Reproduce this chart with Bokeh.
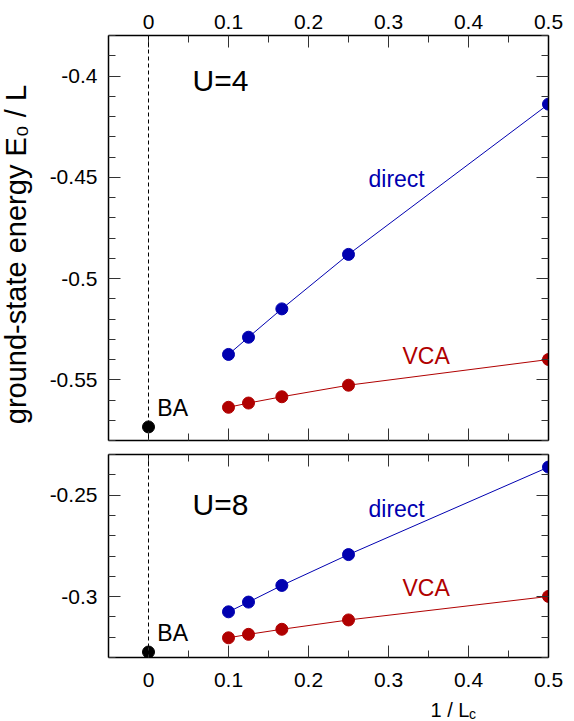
import math
from bokeh.plotting import figure
from bokeh.layouts import column, row
from bokeh.models import LinearAxis, FixedTicker, Range1d, Label, Span
from bokeh.embed import file_html
from bokeh.resources import INLINE

# ---------------- data ----------------
Lc = [10, 8, 6, 4, 2]                      # cluster sizes
inv_Lc = [1.0 / l for l in Lc]             # x = 1 / Lc

u4_direct = [-0.5375, -0.5290, -0.5150, -0.4881, -0.4139]
u4_vca = [-0.5636, -0.5615, -0.5584, -0.5527, -0.5400]
u4_ba = -0.5733

u8_direct = [-0.3075, -0.3027, -0.2945, -0.2793, -0.2362]
u8_vca = [-0.3203, -0.3186, -0.3161, -0.3115, -0.2999]
u8_ba = -0.3273

x_ticks = [0, 0.1, 0.2, 0.3, 0.4, 0.5]
x_tick_labels = ["0", "0.1", "0.2", "0.3", "0.4", "0.5"]
x_minor = [0.05, 0.15, 0.25, 0.35, 0.45]
top_y_ticks = [-0.55, -0.5, -0.45, -0.4]
top_y_labels = ["-0.55", "-0.5", "-0.45", "-0.4"]
bot_y_ticks = [-0.3, -0.25]
bot_y_labels = ["-0.3", "-0.25"]

FONT = "Liberation Sans"
BLUE = "#0000b0"
RED = "#b00000"
TICK_FS = "21px"
YLAB_W = 40


def make_axis(ticks, labels, minor, show_labels, side):
    ax = LinearAxis(ticker=FixedTicker(ticks=ticks, minor_ticks=minor))
    ax.axis_line_color = "black"
    ax.axis_line_width = 1.5
    ax.major_tick_in = 12
    ax.major_tick_out = 0
    ax.minor_tick_in = 7
    ax.minor_tick_out = 0
    ax.major_tick_line_color = "#333333"
    ax.minor_tick_line_color = "#333333"
    ax.major_tick_line_width = 1
    ax.minor_tick_line_width = 1
    ax.major_label_text_font = FONT
    ax.axis_label_standoff = 0
    if show_labels:
        ax.major_label_overrides = {t: s for t, s in zip(ticks, labels)}
        ax.major_label_text_font_size = TICK_FS
        ax.major_label_text_color = "black"
        ax.major_label_standoff = {"above": 7, "below": 15, "left": 11}.get(side, 8)
    else:
        ax.major_label_overrides = {t: "" for t in ticks}
        ax.major_label_text_font_size = "1px"
        ax.major_label_standoff = 0
    return ax


def make_panel(yr, fh, top_labels, bottom_labels, yt, yl, bt, bb):
    p = figure(width=108 - YLAB_W + 440 + 18, height=bt + fh + bb, output_backend="svg",
               toolbar_location=None, x_axis_location=None, y_axis_location=None,
               title_location=None,
               x_range=Range1d(-0.05, 0.5), y_range=Range1d(*yr),
               min_border_left=108 - YLAB_W, min_border_right=18,
               min_border_top=bt, min_border_bottom=bb)
    p.frame_height = fh
    p.frame_width = 440
    p.grid.visible = False
    p.outline_line_color = None
    p.background_fill_color = "white"
    p.border_fill_color = "white"
    ymin = int(round(yr[0] * 100))
    ymax = int(round(yr[1] * 100))
    y_minor = [v / 100.0 for v in range(ymin, ymax + 1) if v % 5 != 0]
    p.add_layout(make_axis(x_ticks, x_tick_labels, x_minor, top_labels, "above"), "above")
    p.add_layout(make_axis(x_ticks, x_tick_labels, x_minor, bottom_labels, "below"), "below")
    p.add_layout(make_axis(yt, yl, y_minor, True, "left"), "left")
    p.add_layout(make_axis(yt, yl, y_minor, False, "right"), "right")
    p.add_layout(Span(location=0, dimension="height", line_color="black",
                      line_width=1, line_dash="4 3"))
    return p


def add_series(p, direct, vca, ba):
    p.line(inv_Lc, direct, line_color=BLUE, line_width=1)
    p.scatter(inv_Lc, direct, size=12, fill_color=BLUE, line_color=BLUE)
    p.line(inv_Lc, vca, line_color=RED, line_width=1)
    p.scatter(inv_Lc, vca, size=12, fill_color=RED, line_color=RED)
    p.scatter([0], [ba], size=12, fill_color="black", line_color="black")


def lab(p, x, y, text, color="black", size="23px", baseline="middle", angle=0.0, align="left"):
    p.add_layout(Label(x=x, y=y, text=text, text_font=FONT, text_font_size=size,
                       text_color=color, text_baseline=baseline, text_align=align,
                       angle=angle))


def blank_fig(w, h, xr, yr, left=0, right=0):
    f = figure(width=w, height=h, output_backend="svg", toolbar_location=None,
               x_axis_location=None, y_axis_location=None, title_location=None,
               x_range=xr, y_range=yr, min_border=0,
               min_border_left=left, min_border_right=right)
    f.grid.visible = False
    f.outline_line_color = None
    f.background_fill_color = "white"
    f.border_fill_color = "white"
    return f


# ---------------- top panel (U=4) ----------------
p1 = make_panel((-0.58, -0.38), 405, True, False, top_y_ticks, top_y_labels, 35, 7)
add_series(p1, u4_direct, u4_vca, u4_ba)
lab(p1, 0.055, -0.402, "U=4", size="30px")
lab(p1, 0.275, -0.4509, "direct", color=BLUE)
lab(p1, 0.3175, -0.5385, "VCA", color=RED)
lab(p1, 0.011, -0.5641, "BA")

# ---------------- bottom panel (U=8) ----------------
p2 = make_panel((-0.33, -0.23), 203, False, True, bot_y_ticks, bot_y_labels, 7, 40)
add_series(p2, u8_direct, u8_vca, u8_ba)
lab(p2, 0.055, -0.2544, "U=8", size="30px")
lab(p2, 0.275, -0.2569, "direct", color=BLUE)
lab(p2, 0.3175, -0.2958, "VCA", color=RED)
lab(p2, 0.011, -0.318, "BA")

# ---------------- x-axis title strip ----------------
p3 = blank_fig(108 - YLAB_W + 440 + 18, 24, Range1d(-0.05, 0.5), Range1d(0, 24),
               left=108 - YLAB_W, right=18)
p3.frame_width = 440
p3.frame_height = 24
lab(p3, 0.3525, 12, "1 / L", size="20px")
lab(p3, 0.4005, 8, "c", size="14px")

# ---------------- y-axis title strip ----------------
py = blank_fig(YLAB_W, 721, Range1d(0, YLAB_W), Range1d(0, 721))
py.frame_width = YLAB_W
py.frame_height = 721
lab(py, 15, 471, "ground-state energy  E\u2080 / L", size="29px",
    angle=math.pi / 2, align="center")

layout = row(py, column(p1, p2, p3, spacing=0), spacing=0)
open("out.html", "w").write(file_html(layout, INLINE))
